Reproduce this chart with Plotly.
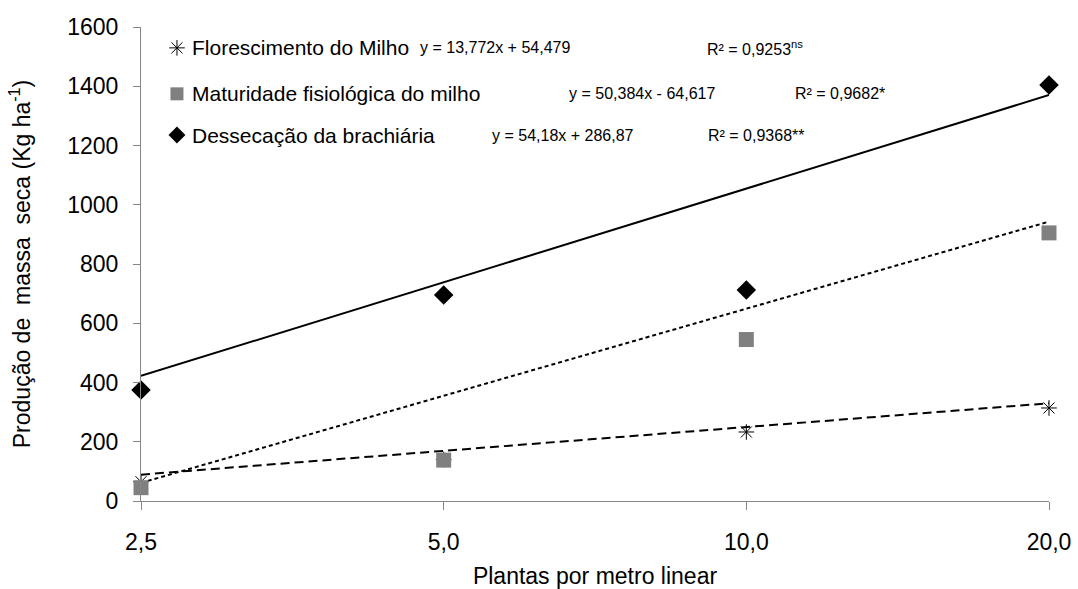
import plotly.graph_objects as go

# Plant densities (plants per linear metre) shown as evenly spaced categories
densidades = [2.5, 5.0, 10.0, 20.0]
rotulos_x = ["2,5", "5,0", "10,0", "20,0"]

# Dry-mass production (kg/ha) per sowing time
florescimento = [65, 140, 233, 314]
maturidade = [45, 138, 545, 905]
dessecacao = [375, 695, 712, 1404]

# Linear fits (slope, intercept) as fitted on plant density
fit_flor = (13.772, 54.479)
fit_mat = (50.384, -64.617)
fit_des = (54.18, 286.87)

nomes = ["Florescimento do Milho", "Maturidade fisiológica do milho", "Dessecação da brachiária"]
equacoes = ["y = 13,772x + 54,479", "y = 50,384x - 64,617", "y = 54,18x + 286,87"]
r2 = ["R² = 0,9253<sup>ns</sup>", "R² = 0,9682*", "R² = 0,9368**"]

pos = list(range(len(densidades)))
FONT = "Liberation Sans, Arial, sans-serif"


def reta(coef):
    a, b = coef
    return [a * densidades[0] + b, a * densidades[-1] + b]


fig = go.Figure()

# trend lines across the full axis
fig.add_trace(go.Scatter(x=[pos[0], pos[-1]], y=reta(fit_flor), mode="lines",
                         line=dict(color="black", width=2, dash="9px,5px"),
                         showlegend=False, hoverinfo="skip"))
fig.add_trace(go.Scatter(x=[pos[0], pos[-1]], y=reta(fit_mat), mode="lines",
                         line=dict(color="black", width=2, dash="4px,3px"),
                         showlegend=False, hoverinfo="skip"))
fig.add_trace(go.Scatter(x=[pos[0], pos[-1]], y=reta(fit_des), mode="lines",
                         line=dict(color="black", width=2),
                         showlegend=False, hoverinfo="skip"))

# observed means
estilos = [
    dict(symbol="asterisk-open", size=13, color="black", line=dict(width=1, color="black")),
    dict(symbol="square", size=15, color="#808080", line=dict(width=0)),
    dict(symbol="diamond", size=15, color="black", line=dict(width=0)),
]
for serie, est in zip([florescimento, maturidade, dessecacao], estilos):
    fig.add_trace(go.Scatter(x=pos, y=serie, mode="markers", marker=est,
                             showlegend=False, cliponaxis=False))

# legend glyphs on an overlay axis spanning the plot area
leg_x = 0.0396
leg_y = [0.956, 0.859, 0.772]
for yy, est in zip(leg_y, estilos):
    m = dict(est)
    if m["symbol"] != "asterisk-open":
        m["size"] = 13
    fig.add_trace(go.Scatter(x=[leg_x], y=[yy], mode="markers", marker=m,
                             xaxis="x2", yaxis="y2", showlegend=False,
                             hoverinfo="skip", cliponaxis=False))

anot = []
texto_x = [0.054, 0.054, 0.054]
eq_x = [0.305, 0.469, 0.384]
r2_x = [0.621, 0.718, 0.622]
for i in range(3):
    anot.append(dict(xref="paper", yref="paper", x=texto_x[i], y=leg_y[i], text=nomes[i],
                     showarrow=False, xanchor="left", yanchor="middle",
                     font=dict(family=FONT, size=21, color="black")))
    anot.append(dict(xref="paper", yref="paper", x=eq_x[i], y=leg_y[i], text=equacoes[i],
                     showarrow=False, xanchor="left", yanchor="middle",
                     font=dict(family=FONT, size=16, color="black")))
    anot.append(dict(xref="paper", yref="paper", x=r2_x[i], y=leg_y[i], text=r2[i],
                     showarrow=False, xanchor="left", yanchor="middle",
                     font=dict(family=FONT, size=16, color="black")))

fig.update_layout(
    width=1078, height=589,
    margin=dict(l=141, r=29, t=27, b=88),
    plot_bgcolor="white", paper_bgcolor="white",
    font=dict(family=FONT, color="black"),
    showlegend=False,
    annotations=anot,
    xaxis=dict(range=[pos[0], pos[-1]], tickvals=pos, ticktext=rotulos_x, automargin=False,
               showgrid=False, zeroline=False, showline=True, linecolor="#868686", linewidth=1,
               ticks="outside", ticklen=8, tickcolor="#868686", ticklabelstandoff=12,
               tickfont=dict(size=23, family=FONT),
               title=dict(text="Plantas por metro linear", font=dict(size=23, family=FONT), standoff=14)),
    yaxis=dict(range=[0, 1600], dtick=200, showgrid=False, zeroline=False, automargin=False,
               showline=True, linecolor="#868686", linewidth=1,
               ticks="outside", ticklen=7, tickcolor="#868686", ticklabelstandoff=10,
               tickfont=dict(size=23, family=FONT),
               title=dict(text="Produção de  massa  seca (Kg ha<sup>-1</sup>)",
                          font=dict(size=23, family=FONT), standoff=30)),
    xaxis2=dict(overlaying="x", range=[0, 1], visible=False),
    yaxis2=dict(overlaying="y", range=[0, 1], visible=False),
)

fig.write_html("out.html")
